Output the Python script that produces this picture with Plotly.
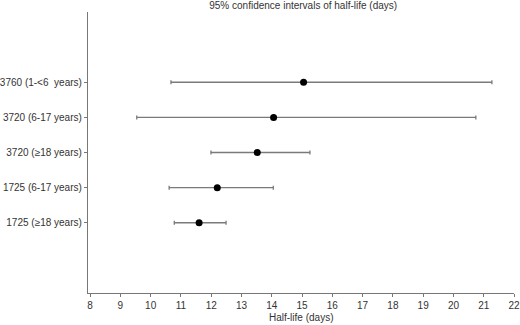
import plotly.graph_objects as go

groups = ["1725 (≥18 years)", "1725 (6-17 years)", "3720 (≥18 years)", "3720 (6-17 years)", "3760 (1-<6  years)"]
estimate = [11.6, 12.2, 13.52, 14.06, 15.05]
lower = [10.78, 10.61, 11.99, 9.54, 10.67]
upper = [12.49, 14.05, 15.26, 20.74, 21.27]
x_ticks = list(range(8, 23))

ypos = list(range(1, len(groups) + 1))
err_plus = [u - e for u, e in zip(upper, estimate)]
err_minus = [e - l for e, l in zip(estimate, lower)]

fig = go.Figure()
fig.add_trace(go.Scatter(
    x=estimate, y=ypos, mode="markers",
    marker=dict(color="black", size=7),
    error_x=dict(type="data", symmetric=False, array=err_plus, arrayminus=err_minus,
                 color="#7a7a7a", thickness=1.3, width=2),
    showlegend=False, cliponaxis=False,
))

font = dict(family="Liberation Sans, Arial, sans-serif", size=10, color="#333333")
fig.update_layout(
    width=520, height=325,
    margin=dict(l=88, r=6, t=12, b=32),
    paper_bgcolor="white", plot_bgcolor="white",
    font=font,
    title=dict(text="95% confidence intervals of half-life (days)", x=0.583, xref="container",
               xanchor="center", y=0.982, yanchor="middle", font=dict(size=10, color="#333333")),
    xaxis=dict(range=[7.93, 22.0], tickvals=x_ticks, ticktext=[str(t) for t in x_ticks],
               showline=True, linecolor="#777777", linewidth=1.3, ticks="outside", ticklen=3,
               tickcolor="#777777", showgrid=False, zeroline=False, automargin=False,
               tickfont=dict(size=10)),
    yaxis=dict(range=[-1, 7], tickvals=ypos, ticktext=groups, automargin=False,
               showline=True, linecolor="#777777", linewidth=1.3, ticks="outside", ticklen=3,
               tickcolor="#777777", showgrid=False, zeroline=False),
    annotations=[dict(text="Half-life (days)", xref="paper", yref="paper", x=0.5, y=-0.086,
                      xanchor="center", yanchor="middle", showarrow=False, font=dict(size=10))],
)
fig.write_html("out.html", config={"displayModeBar": False})

with open("out.html", encoding="utf-8") as f:
    html = f.read()
html = html.replace("<body>", '<body style="margin:0;padding:0;">', 1)
with open("out.html", "w", encoding="utf-8") as f:
    f.write(html)
